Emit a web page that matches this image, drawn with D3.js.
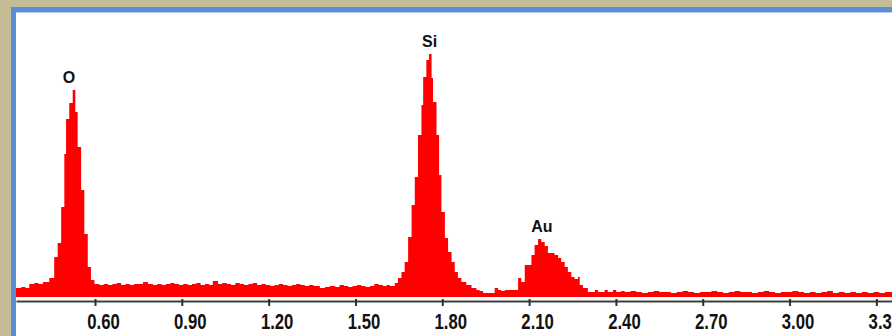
<!DOCTYPE html>
<html>
<head>
<meta charset="utf-8">
<title>EDS spectrum</title>
<script src="https://cdn.jsdelivr.net/npm/d3@7/dist/d3.min.js"></script>
<style>
  body { margin: 0; background: #c4bc94; }
  svg { display: block; }
</style>
</head>
<body>
<svg width="892" height="336" id="mainsvg"></svg>
<script>
// channel start energies (keV)
const energy = [
  0.327, 0.345, 0.36, 0.373, 0.39, 0.405, 0.42, 0.442,
  0.459, 0.471, 0.483, 0.494, 0.500, 0.511, 0.523, 0.532, 0.540, 0.552, 0.563, 0.575, 0.586,
  0.598, 0.615, 0.63, 0.645, 0.66,
  0.675, 0.69, 0.705, 0.72, 0.735,
  0.75, 0.766, 0.783, 0.80, 0.815,
  0.83, 0.845, 0.86, 0.875, 0.89,
  0.905, 0.92, 0.935, 0.95, 0.965,
  0.98, 0.995, 1.007, 1.025, 1.04,
  1.055, 1.07, 1.085, 1.10, 1.115,
  1.13, 1.145, 1.16, 1.175, 1.19,
  1.205, 1.22, 1.235, 1.25, 1.265,
  1.28, 1.295, 1.31, 1.325, 1.34,
  1.355, 1.377, 1.395, 1.411, 1.43,
  1.445, 1.46, 1.475, 1.49, 1.505,
  1.52, 1.535, 1.55, 1.565, 1.58,
  1.595, 1.608,
  1.619, 1.636, 1.647, 1.659, 1.670, 1.682, 1.694, 1.705, 1.716, 1.728,
  1.734, 1.745, 1.754, 1.763, 1.768, 1.780, 1.789, 1.797, 1.809, 1.820,
  1.832, 1.843, 1.854, 1.866, 1.883, 1.901, 1.918,
  1.929, 1.941, 1.981, 1.993, 2.004, 2.016, 2.062, 2.073, 2.085, 2.108,
  2.119, 2.131, 2.142, 2.154, 2.165, 2.177, 2.188, 2.200, 2.211, 2.223,
  2.234, 2.246, 2.257, 2.269, 2.275, 2.286, 2.303, 2.327, 2.338, 2.361,
  2.372, 2.390, 2.401, 2.418,
  2.43, 2.45, 2.47, 2.49, 2.51,
  2.53, 2.55, 2.57, 2.59, 2.61,
  2.63, 2.65, 2.67, 2.69, 2.71,
  2.73, 2.75, 2.77, 2.79, 2.81,
  2.83, 2.85, 2.87, 2.89, 2.91,
  2.93, 2.95, 2.97, 2.99, 3.01,
  3.03, 3.05, 3.07, 3.09, 3.11,
  3.13, 3.15, 3.17, 3.19, 3.21,
  3.23, 3.25, 3.27, 3.29, 3.31,
  3.33, 3.36
];
// counts per channel (same order as energy)
const counts = [
  9, 10, 9, 13, 14, 13, 15, 19,
  40, 54, 90, 143, 178, 194, 207, 185, 150, 107, 63, 30, 17,
  13, 12, 13, 12, 13,
  14, 12, 13, 12, 13,
  13, 15, 13, 12, 13,
  12, 13, 14, 13, 12,
  13, 12, 13, 14, 12,
  13, 12, 16, 13, 14,
  13, 12, 14, 13, 12,
  13, 14, 12, 13, 12,
  11, 12, 13, 12, 11,
  12, 13, 12, 11, 12,
  11, 9, 10, 11, 10,
  12, 11, 10, 11, 12,
  11, 10, 11, 13, 12,
  11, 12,
  11, 14, 19, 25, 35, 60, 92, 120, 162, 192,
  220, 237, 243, 219, 195, 162, 122, 85, 59, 45,
  35, 25, 19, 15, 12, 9, 7,
  6, 4, 9, 7, 6, 7, 19, 15, 32, 42,
  52, 58, 55, 51, 44, 44, 42, 39, 35, 30,
  25, 20, 18, 20, 12, 9, 5, 7, 5, 7,
  5, 7, 5, 6,
  5, 6, 5, 4, 5,
  6, 5, 5, 4, 5,
  6, 5, 4, 5, 5,
  6, 5, 4, 5, 6,
  5, 5, 4, 5, 6,
  5, 4, 5, 5, 6,
  5, 4, 5, 4, 5,
  6, 4, 5, 4, 5,
  4, 5, 4, 5, 4,
  5, 5
];
const tickValues = [0.60, 0.90, 1.20, 1.50, 1.80, 2.10, 2.40, 2.70, 3.00, 3.30];
const peakNames = ['O', 'Si', 'Au'];
const peakEnergy = [0.51, 1.756, 2.144];

const svg = d3.select('#mainsvg');
const width = +svg.attr('width');
const height = +svg.attr('height');

// window frame
svg.append('rect').attr('width', width).attr('height', height).attr('fill', '#c4bc94');
svg.append('rect').attr('x', 11).attr('y', 7).attr('width', width).attr('height', height)
  .attr('fill', '#5a8fd8');
svg.append('rect').attr('x', 16).attr('y', 12).attr('width', width).attr('height', height)
  .attr('fill', '#ffffff');
svg.append('line').attr('x1', 16).attr('x2', width).attr('y1', 12.5).attr('y2', 12.5)
  .attr('stroke', '#b4ccf0').attr('stroke-width', 1);

const x = d3.scaleLinear().domain([0.327, 3.354]).range([16, 892]);
const y = d3.scaleLinear().domain([0, 250]).range([297, 47]);

const data = energy.map((e, i) => ({ e: e, c: counts[i] }));

const area = d3.area()
  .x(d => x(d.e))
  .y0(y(0))
  .y1(d => y(d.c))
  .curve(d3.curveStepAfter);

svg.append('path').datum(data)
  .attr('d', area)
  .attr('fill', '#ff0000');

// energy axis
const axis = d3.axisBottom(x)
  .tickValues(tickValues)
  .tickFormat(d3.format('.2f'))
  .tickSize(5)
  .tickSizeOuter(0);

const squeeze = 0.76; // narrow bold digits
const gx = svg.append('g')
  .attr('transform', 'translate(0,301)')
  .call(axis)
  .attr('font-family', '"Liberation Sans", Arial, sans-serif')
  .attr('font-size', 22)
  .attr('font-weight', 'bold');
gx.select('.domain').attr('stroke', '#404040').attr('stroke-width', 2);
gx.selectAll('.tick line').attr('stroke', '#303030').attr('stroke-width', 2).attr('y1', -2);
gx.selectAll('.tick text')
  .attr('transform', `scale(${squeeze},1)`)
  .attr('y', 28).attr('dy', 0).attr('dx', 8 / squeeze)
  .attr('fill', '#111');

// element labels above the peaks
const peakTop = peakEnergy.map(pe => d3.max(data.filter(d => Math.abs(d.e - pe) < 0.03), d => d.c));
svg.append('g').selectAll('text').data(peakNames).join('text')
  .attr('x', (d, i) => x(peakEnergy[i]))
  .attr('y', (d, i) => y(peakTop[i]) - 7)
  .attr('text-anchor', 'middle')
  .attr('font-family', '"Liberation Sans", Arial, sans-serif')
  .attr('font-size', 16)
  .attr('font-weight', 'bold')
  .attr('fill', '#111')
  .text(d => d);
</script>
</body>
</html>
